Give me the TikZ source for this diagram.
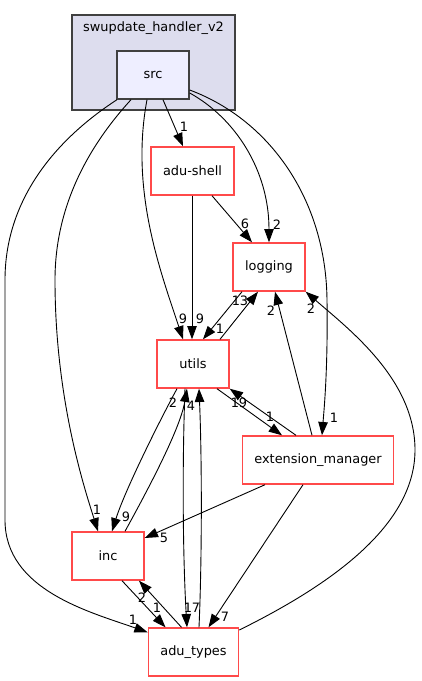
\documentclass[tikz,border=0pt]{standalone}
\usepackage{fontspec}
\setmainfont{DejaVu Sans}
\usepackage{tikz}
\usetikzlibrary{arrows.meta}
\usepackage{xcolor}
\definecolor{clusterfill}{HTML}{DDDDEE}
\definecolor{srcfill}{HTML}{EEEEFF}
\definecolor{dirred}{HTML}{FF4A4A}
\definecolor{framegray}{HTML}{404040}

\begin{document}
\begin{tikzpicture}[x=1pt, y=-1pt,
  every node/.style={font=\fontsize{12.9}{15}\selectfont},
  dir/.style={draw=dirred, line width=1.4pt, fill=white, minimum width=72pt,
    minimum height=48pt, inner xsep=12pt},
  dep/.style={-{Triangle[length=13.3pt, width=9.5pt]}, line width=0.9pt},
  lbl/.style={inner sep=0pt}]
  \useasboundingbox (0,0) rectangle (421,681);

  % cluster
  \filldraw[fill=clusterfill, draw=framegray, line width=1.4pt]
  (72,15) rectangle (235,110);
  \node (cluster) at (153.5,28) {swupdate\_handler\_v2};
  \node[dir, fill=srcfill, draw=framegray] (src) at (153,75) {src};

  % directories
  \node[dir] (adushell) at (192.5,171) {adu-shell};
  \node[dir] (logging) at (269,267) {logging};
  \node[dir] (utils) at (193,364) {utils};
  \node[dir] (extmgr) at (318,460) {extension\_manager};
  \node[dir] (inc) at (108,556) {inc};
  \node[dir] (adutypes) at (193.5,652) {adu\_types};

  % from src
  \draw[dep] ([xshift=10pt]src.south) -- ([xshift=-9.5pt]adushell.north)
    node[lbl] at (184,127) {1};
  \draw[dep] ([yshift=-18pt]src.east) .. controls (235,118) and (269,170) .. (logging.north)
    node[lbl] at (277,225) {2};
  \draw[dep] ([yshift=-15pt]src.east) .. controls (270,120) and (326,200) .. (327,300)
    .. controls (328,370) and (324,410) .. ([xshift=4pt]extmgr.north)
    node[lbl] at (334,418) {1};
  \draw[dep] ([xshift=-6pt]src.south) .. controls (130,190) and (160,270) .. ([xshift=-10pt]utils.north)
    node[lbl] at (183,319) {9};
  \draw[dep] ([xshift=-22pt]src.south) .. controls (85,150) and (55,210) .. (55,280)
    .. controls (55,400) and (85,490) .. ([xshift=-10pt]inc.north)
    node[lbl] at (97,510) {1};
  \draw[dep] ([xshift=-36pt]src.south) .. controls (55,140) and (5,200) .. (5,280) -- (5,520)
    .. controls (5,590) and (90,612) .. ([yshift=-5pt]adutypes.north west)
    node[lbl] at (133,620) {1};

  % adu-shell
  \draw[dep] ([xshift=19.5pt]adushell.south) -- ([xshift=-17pt]logging.north)
    node[lbl] at (245,224) {6};
  \draw[dep] ([xshift=-0.5pt]adushell.south) -- ([xshift=-1pt]utils.north)
    node[lbl] at (200,319) {9};

  % utils and logging
  \draw[dep] ([xshift=27pt]utils.north) -- ([xshift=-11pt]logging.south)
    node[lbl] at (240,301) {13};
  \draw[dep] ([xshift=-27pt]logging.south) -- ([xshift=10pt]utils.north)
    node[lbl] at (220,329) {1};

  % utils and inc
  \draw[dep] ([xshift=-16pt]utils.south) .. controls (160,420) and (125,490) .. ([xshift=4pt]inc.north)
    node[lbl] at (126,517) {9};
  \draw[dep] ([xshift=17pt]inc.north) .. controls (145,495) and (180,430) .. ([xshift=-6pt]utils.south)
    node[lbl] at (173,403) {2};

  % utils and adu_types
  \draw[dep] ([xshift=-8pt]utils.south) .. controls (182,470) and (183,560) .. ([xshift=-6.5pt]adutypes.north)
    node[lbl] at (192,608) {17};
  \draw[dep] ([xshift=5.5pt]adutypes.north) .. controls (202,560) and (202,460) .. ([xshift=6pt]utils.south)
    node[lbl] at (191,406) {4};

  % utils and extension_manager
  \draw[dep] ([xshift=24pt]utils.south) -- ([xshift=-36pt]extmgr.north)
    node[lbl] at (270,417) {1};
  \draw[dep] ([xshift=-22pt]extmgr.north) -- (utils.south east)
    node[lbl] at (239,403) {19};

  % extension_manager
  \draw[dep] ([xshift=-6pt]extmgr.north) -- ([xshift=6pt]logging.south)
    node[lbl] at (271,311) {2};
  \draw[dep] ([xshift=-53pt]extmgr.south) -- ([yshift=18pt]inc.east)
    node[lbl] at (164,538) {5};
  \draw[dep] ([xshift=-15pt]extmgr.south) -- ([xshift=15pt]adutypes.north)
    node[lbl] at (225,617) {7};

  % inc and adu_types
  \draw[dep] ([xshift=14pt]inc.south) -- ([xshift=-28pt]adutypes.north)
    node[lbl] at (157,608) {1};
  \draw[dep] ([xshift=-12pt]adutypes.north) -- ([xshift=31pt]inc.south)
    node[lbl] at (142,598) {2};

  % adu_types to logging
  \draw[dep] ([yshift=22pt]adutypes.east) .. controls (320,590) and (415,530) .. (415,450)
    .. controls (415,380) and (350,330) .. (logging.south east)
    node[lbl] at (311,309) {2};
\end{tikzpicture}
\end{document}
